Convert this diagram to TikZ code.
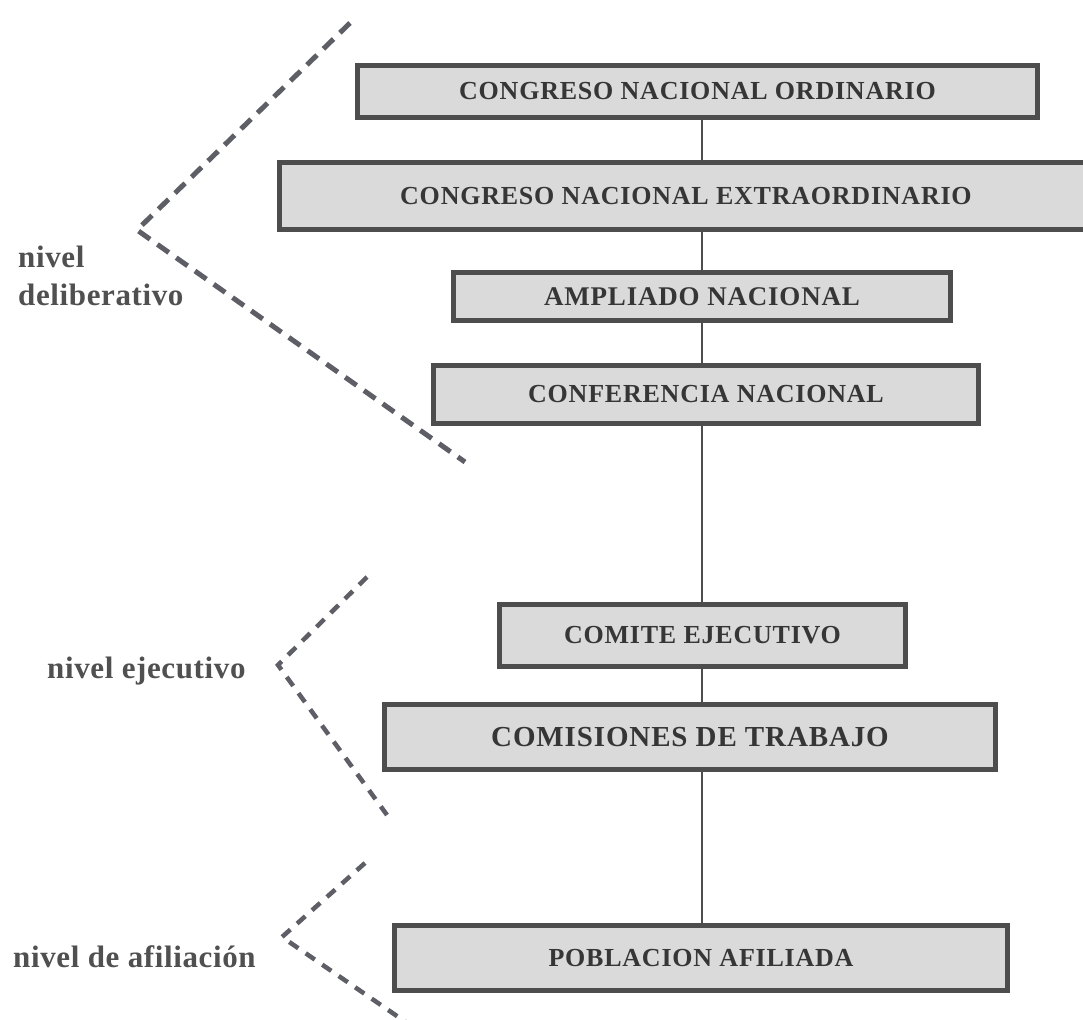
\documentclass[tikz,border=0pt]{standalone}
\usepackage{fontspec}
\setmainfont{Liberation Serif}
\newfontfamily\boxfont[LetterSpace=3]{Liberation Serif}
\newfontfamily\lblfont[LetterSpace=2]{Liberation Serif}
\definecolor{boxfill}{HTML}{DADADA}
\definecolor{boxline}{HTML}{4D4D4D}
\definecolor{txtcol}{HTML}{363636}
\definecolor{dashcol}{HTML}{5E5E66}
\definecolor{lblcol}{HTML}{505050}
\begin{document}
\begin{tikzpicture}[x=1pt,y=-1pt,
  orgbox/.style={draw=boxline, line width=5pt, fill=boxfill, inner sep=0pt, text=txtcol,
    font=\boxfont\bfseries\fontsize{26}{30}\selectfont},
  link/.style={draw=boxline, line width=2.2pt},
  bracket/.style={draw=dashcol, line width=5pt, dash pattern=on 14pt off 9pt},
  bracketsm/.style={draw=dashcol, line width=4.5pt, dash pattern=on 11pt off 9pt},
  lvl/.style={text=lblcol, font=\lblfont\bfseries\fontsize{31}{38}\selectfont, inner sep=0pt, anchor=base west}]
\useasboundingbox (0,0) rectangle (1083,1019);
\clip (0,0) rectangle (1083,1019);
\fill[white] (0,0) rectangle (1083,1019);

% boxes
\node[orgbox, minimum width=680pt, minimum height=52pt] (b1) at (697.5,91.5) {CONGRESO NACIONAL ORDINARIO};
\node[orgbox, minimum width=813pt, minimum height=67pt] (b2) at (686,196) {CONGRESO NACIONAL EXTRAORDINARIO};
\node[orgbox, minimum width=497pt, minimum height=48pt, font=\boxfont\bfseries\fontsize{27}{31}\selectfont] (b3) at (702,296.5) {AMPLIADO NACIONAL};
\node[orgbox, minimum width=545pt, minimum height=58pt] (b4) at (706,394.5) {CONFERENCIA NACIONAL};
\node[orgbox, minimum width=406pt, minimum height=62pt] (b5) at (702.5,635.5) {COMITE EJECUTIVO};
\node[orgbox, minimum width=611pt, minimum height=65pt, font=\boxfont\bfseries\fontsize{29}{33}\selectfont] (b6) at (690,737) {COMISIONES DE TRABAJO};
\node[orgbox, minimum width=613pt, minimum height=65pt] (b7) at (701,958) {POBLACION AFILIADA};

% connectors
\coordinate (sp) at (702,0);
\draw[link] (b1.south -| sp) -- (b2.north -| sp);
\draw[link] (b2.south -| sp) -- (b3.north -| sp);
\draw[link] (b3.south -| sp) -- (b4.north -| sp);
\draw[link] (b4.south -| sp) -- (b5.north -| sp);
\draw[link] (b5.south -| sp) -- (b6.north -| sp);
\draw[link] (b6.south -| sp) -- (b7.north -| sp);

% brackets
\coordinate (d1t) at (350,23);
\coordinate (d1a) at (137,230);
\coordinate (d1b) at (465,462);
\draw[bracket] (d1t) -- (d1a) -- (d1b);
\coordinate (d2t) at (367,577);
\coordinate (d2a) at (278,665);
\coordinate (d2b) at (387,815);
\draw[bracketsm] (d2t) -- (d2a) -- (d2b);
\coordinate (d3t) at (365,863);
\coordinate (d3a) at (282,937);
\coordinate (d3b) at (410,1025);
\draw[bracketsm] (d3t) -- (d3a) -- (d3b);

% level labels
\node[lvl] (l1a) at (18,267) {nivel};
\node[lvl] (l1b) at (18,305) {deliberativo};
\node[lvl] (l2) at (47,678) {nivel ejecutivo};
\node[lvl] (l3) at (13,967) {nivel de afiliación};
\end{tikzpicture}
\end{document}
